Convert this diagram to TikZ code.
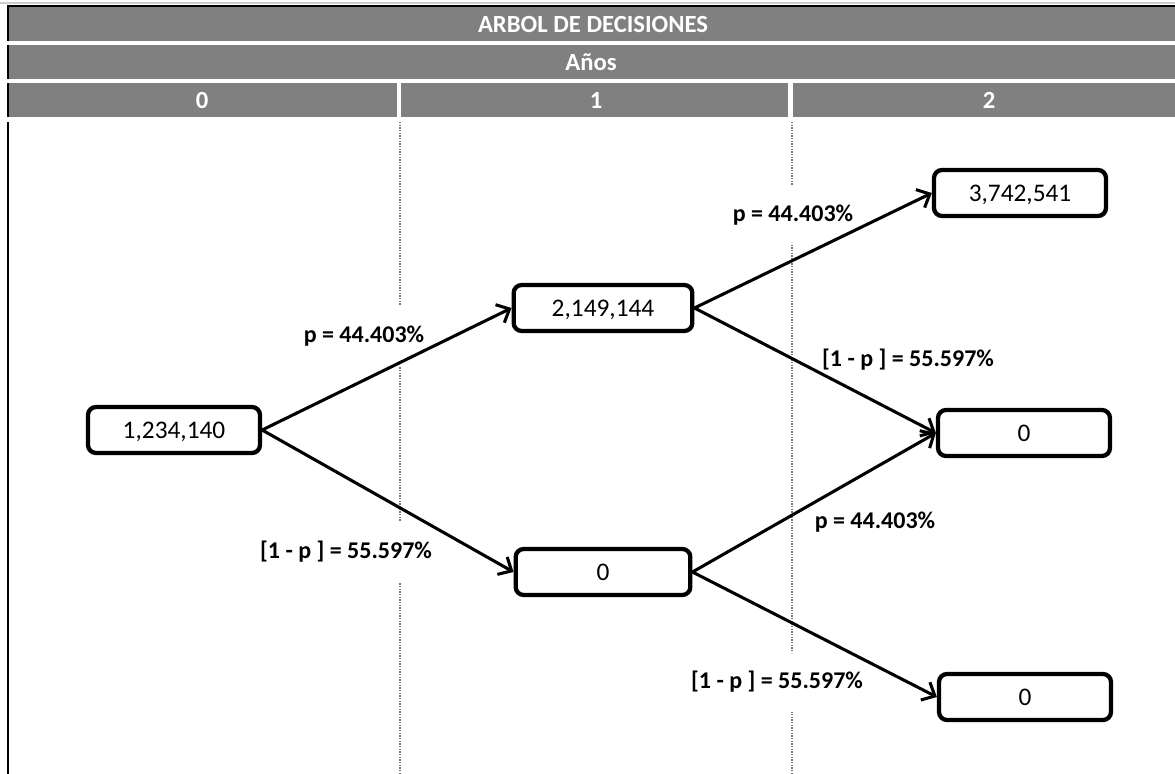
\documentclass[tikz,border=0pt]{standalone}
\usepackage{fontspec}
\setmainfont{Carlito}
\usetikzlibrary{arrows.meta}
\definecolor{hdr}{RGB}{128,128,128}
\definecolor{gline}{RGB}{120,120,120}
\begin{document}
\begin{tikzpicture}[x=0.75pt,y=-0.75pt,
  val/.style={draw, line width=3.2pt, rounded corners=6pt, fill=white, minimum width=129pt, minimum height=34.5pt, inner sep=0pt, text depth=0pt, font=\fontsize{19}{22}\selectfont},
  plab/.style={fill=white, inner xsep=3pt, inner ysep=0pt, minimum height=45pt, font=\fontsize{18}{21}\selectfont\bfseries},
  hdrtxt/.style={text=white, inner sep=0pt, font=\fontsize{18.5}{22}\selectfont\bfseries},
  conn/.style={line width=2.3pt, -{Straight Barb[length=8pt,width=15pt]}},
  guide/.style={draw=gline, line width=1pt, densely dotted},
  border/.style={line width=2pt, black}]
\useasboundingbox (0,0) rectangle (1175,774);
\fill[white] (0,0) rectangle (1175,774);
% header
\draw[gray!40, line width=1.5pt] (0,3.5) -- (1175,3.5);
\fill[hdr] (8,7) rectangle (1175,41);
\fill[hdr] (8,45) rectangle (1175,79);
\fill[hdr] (8,83) rectangle (397,117);
\fill[hdr] (401,83) rectangle (788,117);
\fill[hdr] (793,83) rectangle (1175,117);
\draw[border] (7,6) -- (1175,6);
\draw[border] (8,5) -- (8,41);
\draw[border] (8,45) -- (8,79);
\draw[border] (8,83) -- (8,117);
\draw[border] (8,122) -- (8,774);
\node[hdrtxt] (title) at (593,24) {ARBOL DE DECISIONES};
\node[hdrtxt] (years) at (591,62) {Años};
\node[hdrtxt] (y0) at (202,100) {0};
\node[hdrtxt] (y1) at (596,100) {1};
\node[hdrtxt] (y2) at (989,100) {2};
% guides
\coordinate (g1t) at (400,122);
\coordinate (g1b) at (400,774);
\coordinate (g2t) at (792,122);
\coordinate (g2b) at (792,774);
\draw[guide] (g1t) -- (g1b);
\draw[guide] (g2t) -- (g2b);
% labels
\node[plab] (l1) at (364,336) {p = 44.403\%};
\node[plab] (l2) at (346,552) {[1 - p ] = 55.597\%};
\node[plab] (l3) at (793,215) {p = 44.403\%};
\node[plab] (l4) at (908,360) {[1 - p ] = 55.597\%};
\node[plab] (l5) at (875,522) {p = 44.403\%};
\node[plab] (l6) at (777,682) {[1 - p ] = 55.597\%};
% value boxes
\node[val] (A) at (174,430) {1,234,140};
\node[val, minimum width=134pt] (B) at (603,308) {2,149,144};
\node[val, minimum width=131pt] (C) at (603,572) {0};
\node[val] (D) at (1020,193) {3,742,541};
\node[val] (E) at (1024,433) {0};
\node[val] (F) at (1025,697) {0};
% connectors
\draw[conn] (A.east) -- (B.west);
\draw[conn] (A.east) -- (C.west);
\draw[conn] (B.east) -- (D.west);
\draw[conn] (B.east) -- (E.west);
\draw[conn] (C.east) -- (E.west);
\draw[conn] (C.east) -- (F.west);
\end{tikzpicture}
\end{document}
